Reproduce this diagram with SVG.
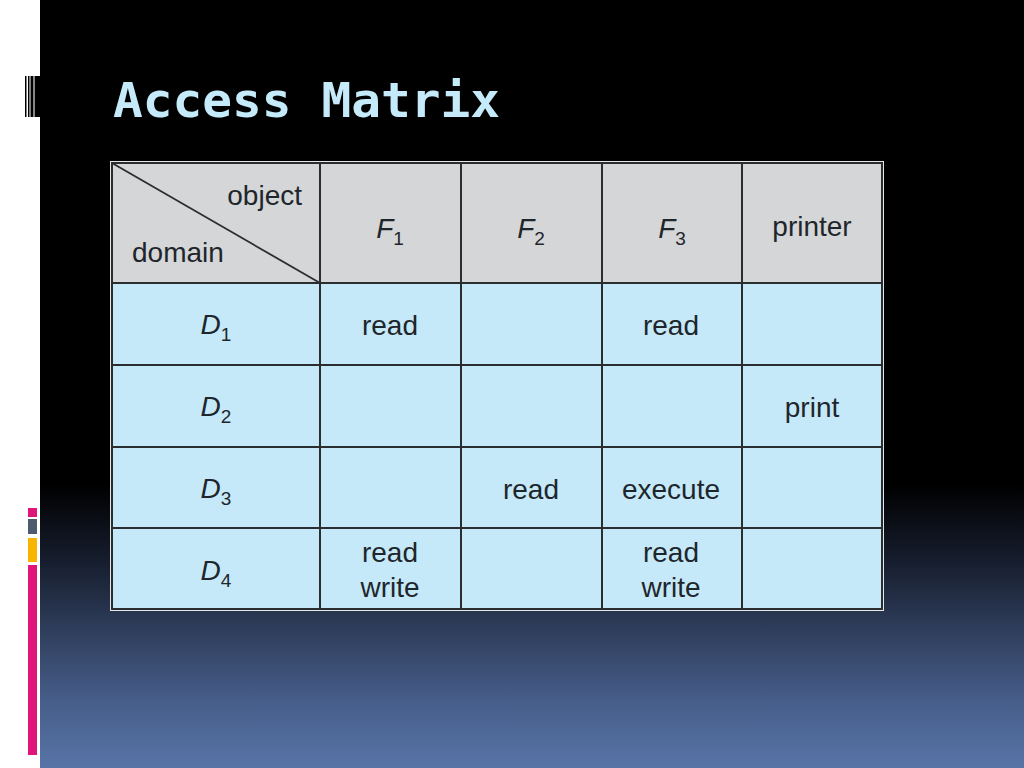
<svg xmlns="http://www.w3.org/2000/svg" width="1024" height="768" viewBox="0 0 1024 768">
<defs>
<linearGradient id="bg" x1="0" y1="0" x2="0" y2="768" gradientUnits="userSpaceOnUse">
<stop offset="0" stop-color="#000000"/>
<stop offset="0.63" stop-color="#000000"/>
<stop offset="0.73" stop-color="#161d2d"/>
<stop offset="0.81" stop-color="#2c3a56"/>
<stop offset="0.91" stop-color="#465d89"/>
<stop offset="1" stop-color="#5874a7"/>
</linearGradient>
<style>
.t{font-family:"Liberation Sans",Arial,sans-serif;font-size:28px;fill:#1e262c;text-anchor:middle}
.i{font-style:italic}
.s{font-size:19px;font-style:normal}
.g{stroke:#2a2e30;stroke-width:2;fill:none}
</style>
</defs>
<rect x="0" y="0" width="1024" height="768" fill="url(#bg)"/>
<rect x="0" y="0" width="40" height="768" fill="#ffffff"/>
<g id="deco">
<rect x="25" y="76" width="1.5" height="41" fill="#000"/>
<rect x="28" y="76" width="1.5" height="41" fill="#000"/>
<rect x="30.5" y="76" width="3" height="41" fill="#000"/>
<rect x="33.5" y="76" width="1.5" height="41" fill="#888"/>
<rect x="35" y="76" width="5" height="41" fill="#000"/>
<rect x="28" y="508" width="9" height="9" fill="#e0157a"/>
<rect x="28" y="519" width="9" height="15" fill="#4e5a6e"/>
<rect x="28" y="538" width="9" height="24" fill="#f7b500"/>
<rect x="28" y="565" width="9" height="190" fill="#e0157a"/>
</g>
<text id="title" x="113" y="117" font-family="'DejaVu Sans Mono','Liberation Mono',monospace" font-weight="bold" font-size="48" fill="#c5ebfb" textLength="387" lengthAdjust="spacingAndGlyphs">Access Matrix</text>
<g id="table">
<rect x="111" y="162" width="772" height="121" fill="#d5d6d7"/>
<rect x="111" y="283" width="772" height="327" fill="#c5e9f8"/>
<rect x="110.5" y="161.5" width="773" height="449" fill="none" stroke="#e6e6e6" stroke-width="1"/>
<g class="g">
<rect x="112" y="163" width="770" height="446"/>
<line x1="320" y1="163" x2="320" y2="609"/>
<line x1="461" y1="163" x2="461" y2="609"/>
<line x1="602" y1="163" x2="602" y2="609"/>
<line x1="742" y1="163" x2="742" y2="609"/>
<line x1="112" y1="283" x2="882" y2="283"/>
<line x1="112" y1="365" x2="882" y2="365"/>
<line x1="112" y1="447" x2="882" y2="447"/>
<line x1="112" y1="528" x2="882" y2="528"/>
<line x1="112" y1="163" x2="320" y2="283" stroke-width="1.8"/>
</g>
</g>
<g id="header">
<text class="t" x="302" y="205" style="text-anchor:end">object</text>
<text class="t" x="132" y="262" style="text-anchor:start">domain</text>
<text class="t i" x="390" y="238">F<tspan class="s" dy="7">1</tspan></text>
<text class="t i" x="531" y="238">F<tspan class="s" dy="7">2</tspan></text>
<text class="t i" x="672" y="238">F<tspan class="s" dy="7">3</tspan></text>
<text class="t" x="812" y="236">printer</text>
</g>
<g id="rows">
<text class="t i" x="216" y="334">D<tspan class="s" dy="7">1</tspan></text>
<text class="t i" x="216" y="416">D<tspan class="s" dy="7">2</tspan></text>
<text class="t i" x="216" y="498">D<tspan class="s" dy="7">3</tspan></text>
<text class="t i" x="216" y="580">D<tspan class="s" dy="7">4</tspan></text>
<text class="t" x="390" y="335">read</text>
<text class="t" x="671" y="335">read</text>
<text class="t" x="812" y="417">print</text>
<text class="t" x="531" y="499">read</text>
<text class="t" x="671" y="499">execute</text>
<text class="t" x="390" y="562">read</text>
<text class="t" x="390" y="597">write</text>
<text class="t" x="671" y="562">read</text>
<text class="t" x="671" y="597">write</text>
</g>
</svg>
